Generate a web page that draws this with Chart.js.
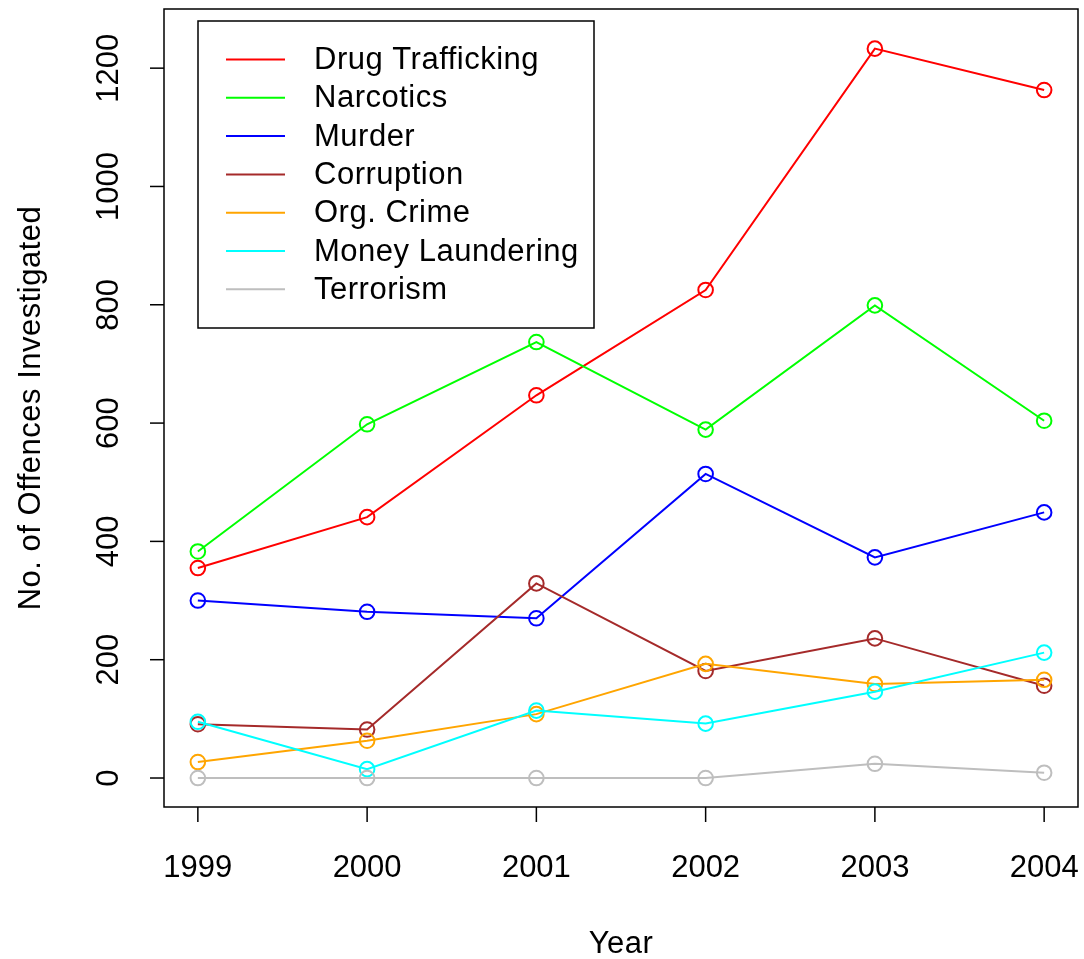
<!DOCTYPE html>
<html>
<head>
<meta charset="utf-8">
<script src="https://cdn.jsdelivr.net/npm/chart.js@4.4.0/dist/chart.umd.min.js"></script>
<style>
  html, body { margin: 0; padding: 0; background: #fff; }
  #wrap { width: 1084px; height: 959px; }
</style>
</head>
<body>
<div id="wrap"><canvas id="offChart" width="1084" height="959"></canvas></div>
<script>
  // years and counts per offence type
  const years = [1999, 2000, 2001, 2002, 2003, 2004];
  const drugTrafficking = [355, 441, 647, 825, 1233, 1163];
  const narcotics = [383, 598, 737, 589, 799, 604];
  const murder = [300, 281, 270, 514, 373, 449];
  const corruption = [91, 82, 329, 181, 236, 156];
  const orgCrime = [27, 63, 108, 193, 159, 166];
  const moneyLaundering = [95, 15, 114, 92, 146, 212];
  const terrorism = [0, 0, 0, 0, 24, 9];

  const seriesNames = ['Drug Trafficking', 'Narcotics', 'Murder', 'Corruption', 'Org. Crime', 'Money Laundering', 'Terrorism'];
  const seriesData = [drugTrafficking, narcotics, murder, corruption, orgCrime, moneyLaundering, terrorism];
  const seriesColors = ['#FF0000', '#00FF00', '#0000FF', '#A52A2A', '#FFA500', '#00FFFF', '#BEBEBE'];
  const yTicks = [0, 200, 400, 600, 800, 1000, 1200];

  const FONT = '31px "Liberation Sans", Arial, sans-serif';

  const datasets = seriesNames.map((name, i) => ({
    label: name,
    data: years.map((yr, j) => ({ x: yr, y: seriesData[i][j] })),
    borderColor: seriesColors[i],
    backgroundColor: 'rgba(0,0,0,0)',
    pointBorderColor: seriesColors[i],
    pointBackgroundColor: 'rgba(0,0,0,0)',
    pointRadius: 7.3,
    pointBorderWidth: 2,
    borderWidth: 2,
    tension: 0,
    fill: false,
    order: -i // later series drawn on top, like R
  }));

  // R style axes, box, titles and legend
  const rAxes = {
    id: 'rAxes',
    afterDatasetsDraw(chart) {
      const ctx = chart.ctx;
      const a = chart.chartArea;
      const xs = chart.scales.x, ys = chart.scales.y;
      ctx.save();
      ctx.strokeStyle = '#000';
      ctx.fillStyle = '#000';
      ctx.lineWidth = 1.5;
      ctx.strokeRect(a.left, a.top, a.right - a.left, a.bottom - a.top);
      ctx.font = FONT;

      // x ticks
      ctx.textAlign = 'center';
      ctx.textBaseline = 'alphabetic';
      years.forEach(yr => {
        const px = xs.getPixelForValue(yr);
        ctx.beginPath();
        ctx.moveTo(px, a.bottom);
        ctx.lineTo(px, a.bottom + 15);
        ctx.stroke();
        ctx.fillText(String(yr), px, 877);
      });
      ctx.letterSpacing = '0.5px';
      ctx.fillText('Year', (a.left + a.right) / 2, 953);
      ctx.letterSpacing = '0px';

      // y ticks (rotated labels)
      yTicks.forEach(v => {
        const py = ys.getPixelForValue(v);
        ctx.beginPath();
        ctx.moveTo(a.left, py);
        ctx.lineTo(a.left - 14, py);
        ctx.stroke();
        ctx.save();
        ctx.translate(118, py);
        ctx.rotate(-Math.PI / 2);
        ctx.fillText(String(v), 0, 0);
        ctx.restore();
      });
      ctx.save();
      ctx.letterSpacing = '0.5px';
      ctx.translate(40, (a.top + a.bottom) / 2);
      ctx.rotate(-Math.PI / 2);
      ctx.fillText('No. of Offences Investigated', 0, 0);
      ctx.restore();

      // legend box
      const lx = 198, ly = 21, lw = 396, lh = 307;
      ctx.fillStyle = '#fff';
      ctx.fillRect(lx, ly, lw, lh);
      ctx.strokeStyle = '#000';
      ctx.strokeRect(lx, ly, lw, lh);
      ctx.textAlign = 'left';
      ctx.textBaseline = 'middle';
      ctx.letterSpacing = '0.5px';
      chart.data.datasets.forEach((ds, i) => {
        const ry = 59.5 + i * 38.3;
        ctx.strokeStyle = ds.borderColor;
        ctx.lineWidth = 2;
        ctx.beginPath();
        ctx.moveTo(226, ry);
        ctx.lineTo(285, ry);
        ctx.stroke();
        ctx.fillStyle = '#000';
        ctx.fillText(ds.label, 314, ry + 1);
      });
      ctx.restore();
    }
  };

  const ctx = document.getElementById('offChart').getContext('2d');
  const offChart = new Chart(ctx, {
    type: 'line',
    data: { datasets: datasets },
    options: {
      responsive: false,
      animation: false,
      layout: { autoPadding: false, padding: { left: 164, top: 9, right: 6, bottom: 152 } },
      scales: {
        x: { type: 'linear', min: 1998.8, max: 2004.2, display: false },
        y: { type: 'linear', min: -49, max: 1300, display: false }
      },
      plugins: {
        legend: { display: false },
        tooltip: { enabled: false }
      }
    },
    plugins: [rAxes]
  });
</script>
</body>
</html>
